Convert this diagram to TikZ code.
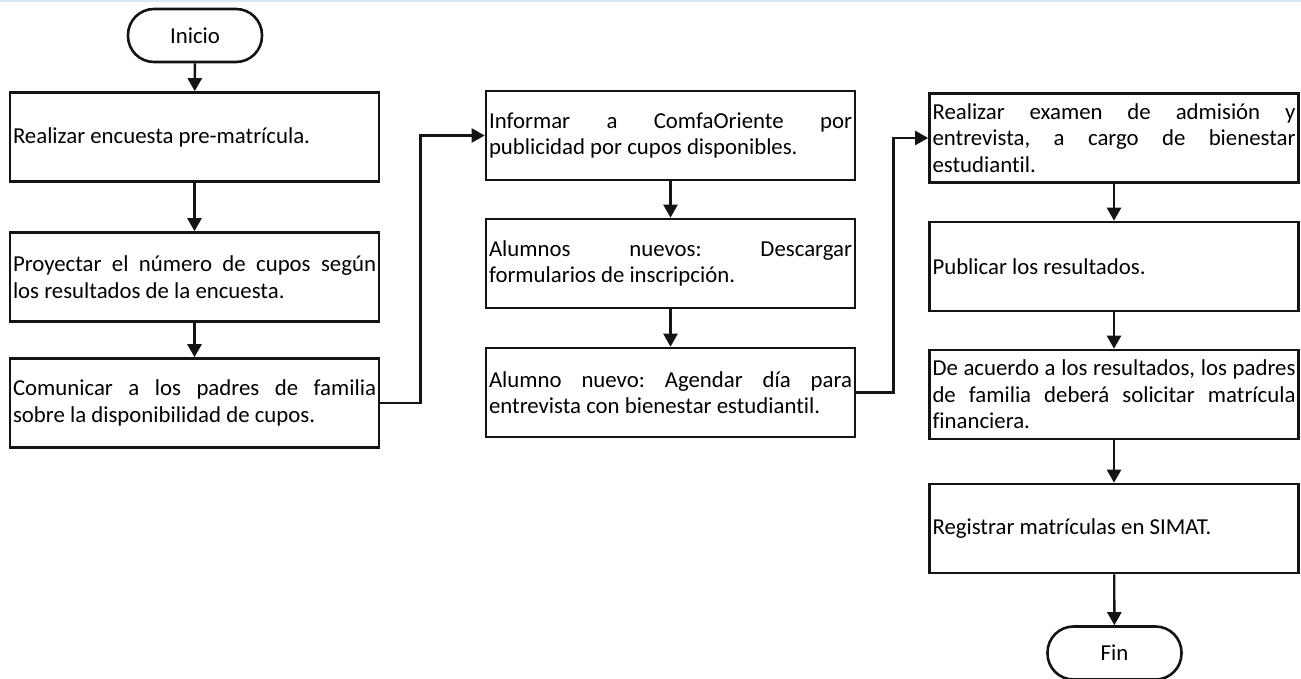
\documentclass[tikz,border=0pt]{standalone}
\usepackage{fontspec}
\setmainfont{Carlito}[Ligatures=NoCommon]
\usepackage{tikz}
\usetikzlibrary{arrows.meta, positioning}
\definecolor{borde}{RGB}{20,20,20}
\definecolor{lineatop}{RGB}{214,232,246}
\hyphenpenalty=10000
\tolerance=10000
\hbadness=10000
\frenchspacing
\tikzset{
  proceso/.style={rectangle, draw=borde, fill=white,
    text width=181.5pt, align=justify, inner xsep=1.5pt,
    minimum height=44.5pt, line width=1.3pt,
    font=\fontsize{11.4}{13.3}\selectfont},
  terminal/.style={rectangle, rounded corners=13pt, draw=borde, fill=white,
    minimum width=67pt, minimum height=26.5pt, line width=1.3pt,
    font=\fontsize{11.4}{13.3}\selectfont},
  flecha/.style={-{Triangle[width=7pt,length=6.5pt]}, line width=1.2pt, color=borde},
  linea/.style={line width=1.2pt, color=borde}
}
\begin{document}
\begin{tikzpicture}[x=0.5pt, y=-0.5pt]
  \useasboundingbox (0,0) rectangle (1301,679);
  \draw[lineatop, line width=1pt] (0,1) -- (1301,1);

  % Columna 1
  \node[terminal] (ini) at (195,35.5) {Inicio};
  \node[proceso] (b1) at (194.5,137) {Realizar encuesta pre-matrícula.};
  \node[proceso] (b2) at (194.5,277) {Proyectar el número de cupos según\linebreak los resultados de la encuesta.};
  \node[proceso] (b3) at (194.5,403) {Comunicar a los padres de familia\linebreak sobre la disponibilidad de cupos.};

  % Columna 2
  \node[proceso] (b4) at (670.5,135.5) {Informar a ComfaOriente por\linebreak publicidad por cupos disponibles.};
  \node[proceso] (b5) at (670.5,263.5) {Alumnos nuevos: Descargar\linebreak formularios de inscripción.};
  \node[proceso] (b6) at (670.5,392.5) {Alumno nuevo: Agendar día para\linebreak entrevista con bienestar estudiantil.};

  % Columna 3
  \node[proceso] (b7) at (1114,138) {Realizar examen de admisión y\linebreak entrevista, a cargo de bienestar\linebreak estudiantil.};
  \node[proceso] (b8) at (1114,266.5) {Publicar los resultados.};
  \node[proceso] (b9) at (1114,394.5) {De acuerdo a los resultados, los padres\linebreak de familia deberá solicitar matrícula\linebreak financiera.};
  \node[proceso] (b10) at (1114,528.5) {Registrar matrículas en SIMAT.};
  \node[terminal] (fin) at (1114.5,653) {Fin};

  % Flechas
  \draw[flecha] (ini) -- (b1);
  \draw[flecha] (b1) -- (b2);
  \draw[flecha] (b2) -- (b3);
  \draw[flecha] (b3.east) -- ++(40,0) |- (b4.west);
  \draw[flecha] (b4) -- (b5);
  \draw[flecha] (b5) -- (b6);
  \draw[flecha] (b6.east) -- ++(37,0) |- (b7.west);
  \draw[flecha] (b7) -- (b8);
  \draw[flecha] (b8) -- (b9);
  \draw[flecha] (b9) -- (b10);
  \draw[flecha] (b10) -- (fin);
\end{tikzpicture}
\end{document}
